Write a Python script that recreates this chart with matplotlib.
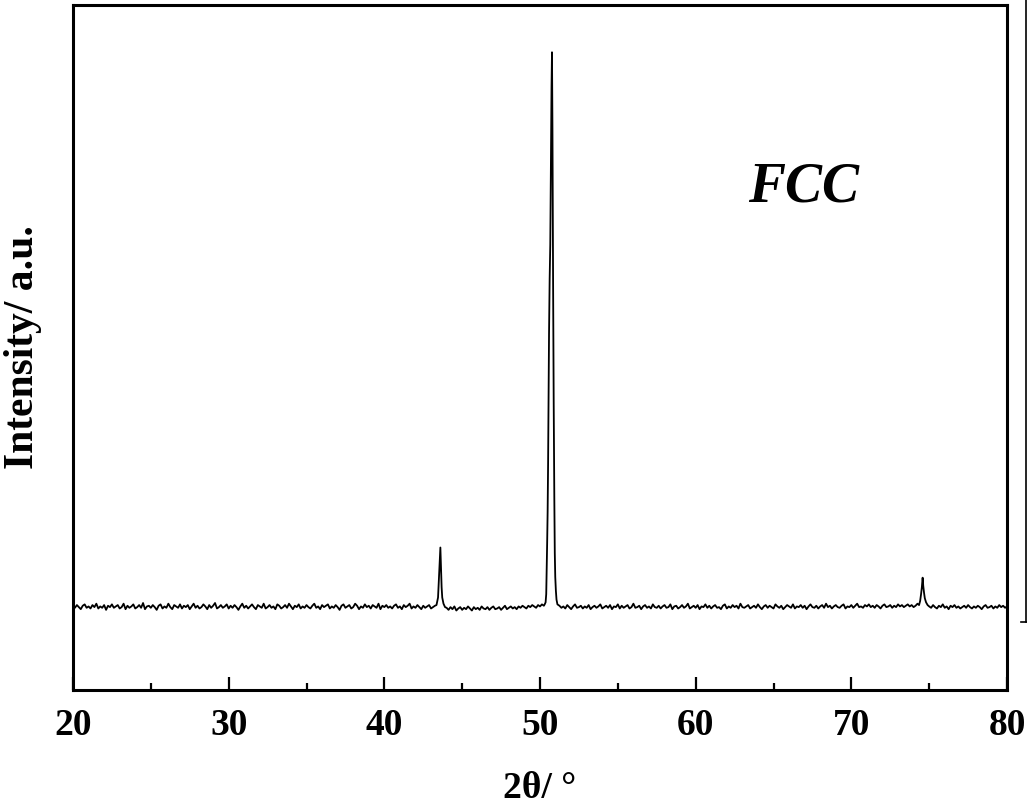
import numpy as np
import matplotlib
matplotlib.use("Agg")
import matplotlib.pyplot as plt
from matplotlib.lines import Line2D

# ---------------- data ----------------
seg_step = 0.125
seg_a_start = 20.0
seg_a = [123,120,124,121,118,123,125,120,122,119,124,121,126,119,122,120,124,117,123,121,
         125,120,122,124,119,121,126,118,123,120,122,125,119,121,124,120,127,118,122,123,
         120,124,121,117,123,125,119,122,120,126,121,118,124,122,120,125,119,123,121,124,
         118,122,126,120,123,119,121,125,122,118,124,120,123,127,119,121,124,120,122,125,
         119,123,120,124,121,117,122,126,120,123,119,122,125,121,118,124,122,120,126,119,
         121,124,120,122,118,125,123,119,121,124,120,126,122,118,123,121,125,119,122,120,
         124,121,119,123,126,120,122,118,124,121,123,125,119,122,120,124,121,117,123,125,
         120,122,124,119,121,126,123,118,122,120,125,121,123,119,124,122,120,126,118,123,
         121,124,120,122,119,123,125,120,122,118,124,121,123,126,119,122,120,124,121,118,
         123,120,122,124,119,121,123]
seg_b_start = 44.0
seg_b = [120,117,121,118,122,116,119,121,117,120,118,122,119,116,121,118,120,117,122,119,
         118,121,117,120,122,118,119,121,117,120,123,118,120,122,119,121,118,122,120,123,
         121,119,123,121,124,122,120,124,122,125,123]
seg_c_start = 51.25
seg_c = [123,120,122,119,124,121,118,122,125,120,121,123,119,122,120,124,118,121,123,120,
         122,125,119,121,123,120,124,118,122,121,125,119,123,120,122,124,119,121,126,120,
         121,123,118,122,124,120,122,119,125,121,120,123,119,122,124,120,121,125,118,122,
         123,119,121,124,120,122,126,119,121,123,120,124,118,122,121,125,120,123,119,122,
         124,120,121,118,123,125,119,122,120,124,121,123,119,126,121,120,122,124,119,121,
         123,120,125,121,118,122,124,120,123,121,119,125,122,120,123,118,121,124,122,120,
         125,119,122,121,124,120,123,118,122,125,121,120,123,119,122,124,120,126,121,123,
         119,122,124,121,120,123,125,119,122,121,124,120,123,126,121,122,120,124,122,125,
         121,123,120,124,122,119,123,125,121,122,124,120,123,121,125,122,124,121,123,125,
         122,124,121,123,126]
seg_d_start = 75.0
seg_d = [122,120,124,121,119,123,121,125,120,122,118,123,121,124,120,122,119,121,123,120,
         124,121,119,122,120,123,121,118,122,124,120,121,123,119,122,120,124,121,123,120,
         122]

# peak regions (angle, intensity)
peak1_x = [43.35, 43.45, 43.50, 43.55, 43.60, 43.64, 43.68, 43.72, 43.80, 43.90]
peak1_y = [124,   135,   160,   185,   208,   180,   150,   135,   126,   121]
peak2_x = [50.30, 50.36, 50.40, 50.43, 50.46, 50.49, 50.52, 50.55, 50.58, 50.62, 50.66,
           50.70, 50.74, 50.77, 50.80, 50.84, 50.88, 50.92, 50.95, 50.98, 51.02, 51.06, 51.12]
peak2_y = [125,   128,   140,   175,   215,   260,   330,   420,   520,   600,   650,
           760,   880,   931,   820,   600,   420,   280,   200,   165,   145,   132,   125]
peak3_x = [74.35, 74.42, 74.48, 74.53, 74.58, 74.62, 74.67, 74.72, 74.80, 74.90]
peak3_y = [124,   130,   140,   150,   164,   152,   142,   134,   128,   124]

x_ticks = [20, 30, 40, 50, 60, 70, 80]
x_minor = [25, 35, 45, 55, 65, 75]
x_label = "2θ/ °"
y_label = "Intensity/ a.u."
phase_label = "FCC"

# ---------------- assemble scan ----------------
xs, ys = [], []
for start, vals in [(seg_a_start, seg_a), (seg_b_start, seg_b), (seg_c_start, seg_c), (seg_d_start, seg_d)]:
    xs.extend(start + seg_step * np.arange(len(vals)))
    ys.extend(vals)
for px, py in [(peak1_x, peak1_y), (peak2_x, peak2_y), (peak3_x, peak3_y)]:
    xs.extend(px)
    ys.extend(py)
xs = np.array(xs)
ys = np.array(ys)
order = np.argsort(xs)
xs, ys = xs[order], ys[order]

# ---------------- plot ----------------
plt.rcParams['font.family'] = ['Liberation Serif', 'DejaVu Serif']

fig = plt.figure(figsize=(10.27, 8.09), dpi=100)
ax = fig.add_axes([73/1027, 1-690/809, (1007-73)/1027, (690-5)/809])
ax.plot(xs, ys, color='black', lw=1.3)

ax.set_xlim(20, 80)
ax.set_ylim(0, 1000)
ax.set_xticks(x_ticks)
ax.set_xticks(x_minor, minor=True)
ax.set_yticks([])
ax.tick_params(axis='x', which='major', direction='in', length=9.5, width=1.6,
               labelsize=27, pad=13)
ax.tick_params(axis='x', which='minor', direction='in', length=5, width=1.6)
for lab in ax.get_xticklabels():
    lab.set_fontweight('bold')
for s in ax.spines.values():
    s.set_linewidth(2.2)

ax.set_xlabel(x_label, fontsize=27, fontweight='bold', labelpad=20)
ax.set_ylabel(y_label, fontsize=30, fontweight='bold', labelpad=22)

ax.text(66.9, 733, phase_label, fontsize=40, fontweight='bold', style='italic',
        ha='center', va='center')

# stray border remnant at the right edge of the picture
fig.add_artist(Line2D([1025.5/1027, 1025.5/1027], [1, 1-622/809], color='black', lw=1.2,
                      transform=fig.transFigure))
fig.add_artist(Line2D([1021/1027, 1027/1027], [1-622/809, 1-622/809], color='black', lw=1.2,
                      transform=fig.transFigure))

fig.savefig('out.png', dpi=100)
